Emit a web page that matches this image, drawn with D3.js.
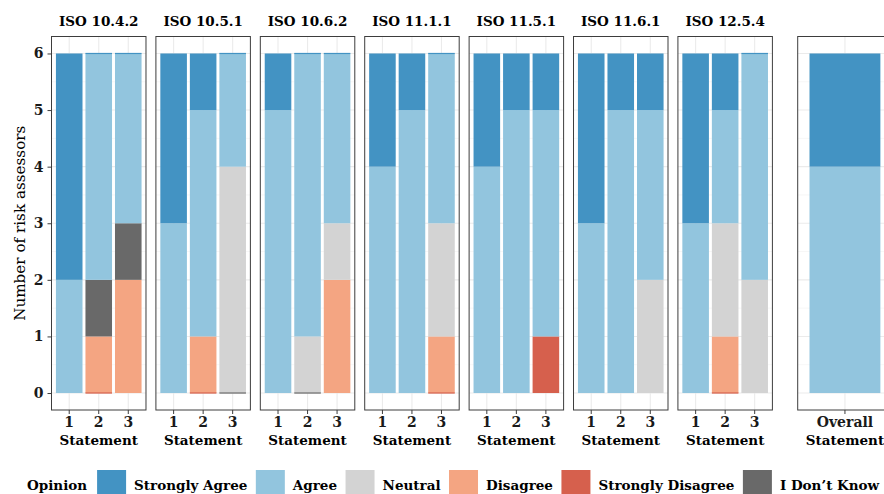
<!DOCTYPE html>
<html>
<head>
<meta charset="utf-8">
<script src="https://cdn.jsdelivr.net/npm/d3@7"></script>
<style>
  html, body { margin: 0; padding: 0; background: #ffffff; }
  svg { display: block; }
</style>
</head>
<body>
<script>
// ---------------- DATA ----------------
const panels = ["ISO 10.4.2", "ISO 10.5.1", "ISO 10.6.2", "ISO 11.1.1", "ISO 11.5.1", "ISO 11.6.1", "ISO 12.5.4"];
const statements = ["1", "2", "3"];
const levels = ["Strongly Agree", "Agree", "Neutral", "Disagree", "Strongly Disagree", "I Don\u2019t Know"];
const levelColors = ["#4393C3", "#92C5DE", "#D3D3D3", "#F4A582", "#D6604D", "#696969"];
// stacking order bottom -> top
const stackOrder = ["Strongly Disagree", "Disagree", "I Don\u2019t Know", "Neutral", "Agree", "Strongly Agree"];
// counts per panel (rows) x statement (cols); null = category absent, 0 = present with zero count
const stronglyAgree    = [[4, 0, 0], [3, 1, 0], [1, 0, 0], [2, 1, 0], [2, 1, 1], [3, 1, 1], [3, 1, 0]];
const agree            = [[2, 4, 3], [3, 4, 2], [5, 5, 3], [4, 5, 3], [4, 5, 4], [3, 5, 3], [3, 2, 4]];
const neutral          = [[null, null, null], [null, null, 4], [null, 1, 1], [null, null, 2], [null, null, null], [null, null, 2], [null, 2, 2]];
const disagree         = [[null, 1, 2], [null, 1, null], [null, null, 2], [null, null, 1], [null, null, null], [null, null, null], [null, 1, null]];
const stronglyDisagree = [[null, 0, null], [null, 0, null], [null, null, null], [null, null, 0], [null, null, 1], [null, null, null], [null, 0, null]];
const dontKnow         = [[null, 1, 1], [null, null, 0], [null, 0, null], [null, null, null], [null, null, null], [null, null, null], [null, null, null]];
const overallCategories = ["Overall"];
const overallStronglyAgree = [2];
const overallAgree = [4];
const yTicks = [0, 1, 2, 3, 4, 5, 6];
const yLabel = "Number of risk assessors";
const xLabel = "Statement";
const legendTitle = "Opinion";

// ---------------- SETUP ----------------
const W = 884, H = 494;
const FONT = "'DejaVu Serif', 'Liberation Serif', serif";
const color = d3.scaleOrdinal().domain(levels).range(levelColors);
const valuesByLevel = {
  "Strongly Agree": stronglyAgree,
  "Agree": agree,
  "Neutral": neutral,
  "Disagree": disagree,
  "Strongly Disagree": stronglyDisagree,
  "I Don\u2019t Know": dontKnow
};

const svg = d3.select("body").append("svg").attr("width", W).attr("height", H)
  .style("font-family", FONT);

const panelTop = 36.5, panelBottom = 410;
const y = d3.scaleLinear().domain([-0.3, 6.3]).range([panelBottom, panelTop]);
const panelX = d3.scaleBand().domain(panels).range([51.5, 772.4]).paddingInner(0.095).paddingOuter(0);
const pw = panelX.bandwidth();
const overallLeft = 797.7;

const stack = d3.stack().keys(stackOrder).value((d, k) => d[k] == null ? 0 : d[k]);

function drawPanel(left, cats, rows, showY, title) {
  const g = svg.append("g").attr("transform", `translate(${left},0)`);
  const x = d3.scaleBand().domain(cats).range([0, pw]).paddingInner(0.1).paddingOuter(0.15);

  // grid
  const grid = g.append("g");
  grid.selectAll("line.minor").data(d3.range(0.5, 6, 1)).join("line")
    .attr("x1", 0).attr("x2", pw).attr("y1", d => y(d)).attr("y2", d => y(d))
    .attr("stroke", "#F2F2F2").attr("stroke-width", 0.6);
  grid.selectAll("line.major").data(yTicks).join("line")
    .attr("x1", 0).attr("x2", pw).attr("y1", d => y(d)).attr("y2", d => y(d))
    .attr("stroke", "#EBEBEB").attr("stroke-width", 1.1);
  grid.selectAll("line.vx").data(cats).join("line")
    .attr("x1", d => x(d) + x.bandwidth() / 2).attr("x2", d => x(d) + x.bandwidth() / 2)
    .attr("y1", panelTop).attr("y2", panelBottom)
    .attr("stroke", "#EBEBEB").attr("stroke-width", 1.1);

  // bars
  const series = stack(rows);
  const segs = [];
  series.forEach(s => {
    s.forEach(d => {
      const v = d.data[s.key];
      if (v == null) return;
      segs.push({ key: s.key, cat: d.data.cat, y0: d[0], y1: d[1], v: v });
    });
  });
  g.selectAll("rect.bar").data(segs.filter(d => d.v > 0)).join("rect")
    .attr("x", d => x(d.cat)).attr("width", x.bandwidth())
    .attr("y", d => y(d.y1)).attr("height", d => y(d.y0) - y(d.y1))
    .attr("fill", d => color(d.key));
  g.selectAll("rect.zero").data(segs.filter(d => d.v === 0)).join("rect")
    .attr("x", d => x(d.cat)).attr("width", x.bandwidth())
    .attr("y", d => y(d.y0) - 0.6).attr("height", 1.2)
    .attr("fill", d => color(d.key));

  // border
  g.append("rect").attr("x", 0).attr("y", panelTop).attr("width", pw).attr("height", panelBottom - panelTop)
    .attr("fill", "none").attr("stroke", "#3d3d3d").attr("stroke-width", 1);

  // x axis
  const xa = g.append("g").attr("transform", `translate(0,${panelBottom})`)
    .call(d3.axisBottom(x).tickSize(4).tickPadding(3));
  xa.select(".domain").remove();
  xa.selectAll(".tick line").attr("stroke", "#3d3d3d");
  xa.selectAll(".tick text").attr("font-family", FONT).attr("font-weight", "bold")
    .attr("font-size", 14).attr("fill", "#1a1a1a");

  g.append("text").attr("x", pw / 2).attr("y", 445).attr("text-anchor", "middle")
    .attr("font-weight", "bold").attr("font-size", 13.5).attr("fill", "#000").text(xLabel);

  if (title) {
    g.append("text").attr("x", pw / 2).attr("y", 26).attr("text-anchor", "middle")
      .attr("font-weight", "bold").attr("font-size", 13.5).attr("fill", "#000").text(title);
  }

  if (showY) {
    const ya = g.append("g").call(d3.axisLeft(y).tickValues(yTicks).tickSize(4).tickPadding(4).tickFormat(d3.format("d")));
    ya.select(".domain").remove();
    ya.selectAll(".tick line").attr("stroke", "#3d3d3d");
    ya.selectAll(".tick text").attr("font-family", FONT).attr("font-weight", "bold")
      .attr("font-size", 14).attr("fill", "#1a1a1a");
  }
}

panels.forEach((p, i) => {
  const rows = statements.map((s, j) => {
    const row = { cat: s };
    stackOrder.forEach(k => { row[k] = valuesByLevel[k][i][j]; });
    return row;
  });
  drawPanel(panelX(p), statements, rows, i === 0, p);
});

// overall panel
{
  const rows = overallCategories.map((c, j) => {
    const row = { cat: c };
    stackOrder.forEach(k => { row[k] = null; });
    row["Strongly Agree"] = overallStronglyAgree[j];
    row["Agree"] = overallAgree[j];
    return row;
  });
  drawPanel(overallLeft, overallCategories, rows, false, null);
}

// y axis title
svg.append("text").attr("transform", `translate(24.5,${(panelTop + panelBottom) / 2}) rotate(-90)`)
  .attr("text-anchor", "middle").attr("font-size", 15.2).attr("fill", "#000").text(yLabel);

// legend
{
  const lg = svg.append("g");
  const keyTop = 470, keyS = 29, textY = 489.5;
  let cx = 27;
  const t = lg.append("text").attr("x", cx).attr("y", textY).attr("font-weight", "bold")
    .attr("font-size", 13.5).text(legendTitle);
  cx += t.node().getComputedTextLength() + 10;
  levels.forEach(l => {
    lg.append("rect").attr("x", cx).attr("y", keyTop).attr("width", keyS).attr("height", keyS)
      .attr("fill", color(l));
    cx += keyS + 8;
    const tt = lg.append("text").attr("x", cx).attr("y", textY).attr("font-weight", "bold")
      .attr("font-size", 13.5).text(l);
    cx += tt.node().getComputedTextLength() + 8.5;
  });
}
</script>
</body>
</html>
